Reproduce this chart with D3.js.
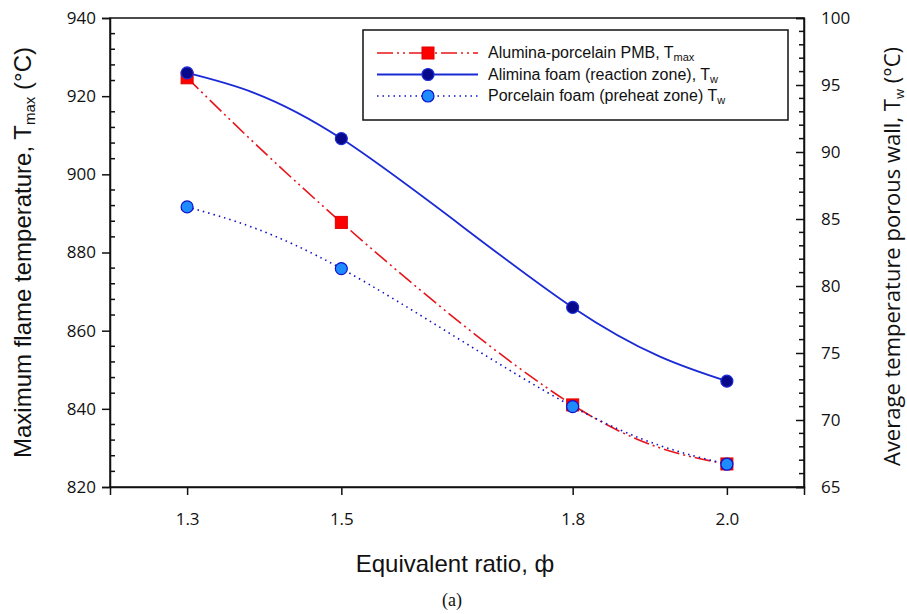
<!DOCTYPE html>
<html>
<head>
<meta charset="utf-8">
<script src="https://cdn.jsdelivr.net/npm/d3@7"></script>
<style>
  body { margin: 0; background: #fff; }
  svg text { fill: #111; }
</style>
</head>
<body>
<div id="container"></div>
<script>
const WIDTH = 907;
const HEIGHT = 614;

const phi = [1.3, 1.5, 1.8, 2.0];
const xTicks = [1.3, 1.5, 1.8, 2.0];
const tmaxPMB = [924.7, 887.7, 841, 825.9];
const twAlumina = [95.9, 91.0, 78.4, 72.9];
const twPorcelain = [85.9, 81.3, 71.0, 66.7];
const leftTicks = [820, 840, 860, 880, 900, 920, 940];
const rightTicks = [65, 70, 75, 80, 85, 90, 95, 100];

const margin = { top: 18, right: 103, bottom: 127, left: 110 };
const innerW = WIDTH - margin.left - margin.right;
const innerH = HEIGHT - margin.top - margin.bottom;

const svg = d3
  .select('#container')
  .append('svg')
  .attr('width', WIDTH)
  .attr('height', HEIGHT);

const g = svg
  .append('g')
  .attr('transform', `translate(${margin.left}, ${margin.top})`);

const x = d3.scaleLinear().domain([1.2, 2.1]).range([0, innerW]);
const yL = d3.scaleLinear().domain([820, 940]).range([innerH, 0]);
const yR = d3.scaleLinear().domain([65, 100]).range([innerH, 0]);

const tickFont = '"Open Sans", sans-serif';

// frame
g.append('rect')
  .attr('width', innerW)
  .attr('height', innerH)
  .attr('fill', 'none')
  .attr('stroke', '#111')
  .attr('stroke-width', 1.5);

// left axis: major out, minor in
const leftAxis = g.append('g').call(
  d3.axisLeft(yL).tickValues(leftTicks).tickSize(8).tickPadding(6).tickFormat(d3.format('d'))
);
leftAxis
  .append('g')
  .selectAll('line')
  .data(d3.range(820, 941, 4).filter((v) => v % 20 !== 0))
  .enter()
  .append('line')
  .attr('x1', 0)
  .attr('x2', 5)
  .attr('y1', (d) => yL(d))
  .attr('y2', (d) => yL(d))
  .attr('stroke', '#111')
  .attr('stroke-width', 1.5);

// right axis: ticks inward
const rightAxis = g
  .append('g')
  .attr('transform', `translate(${innerW}, 0)`)
  .call(d3.axisRight(yR).tickValues(rightTicks).tickSize(-8).tickPadding(18));
rightAxis
  .append('g')
  .selectAll('line')
  .data(d3.range(65, 101, 1).filter((v) => v % 5 !== 0))
  .enter()
  .append('line')
  .attr('x1', 0)
  .attr('x2', -5)
  .attr('y1', (d) => yR(d))
  .attr('y2', (d) => yR(d))
  .attr('stroke', '#111')
  .attr('stroke-width', 1.5);

// bottom axis
const bottomAxis = g
  .append('g')
  .attr('transform', `translate(0, ${innerH})`)
  .call(d3.axisBottom(x).tickValues(xTicks).tickSize(8).tickPadding(18).tickFormat(d3.format('.1f')));

[leftAxis, rightAxis, bottomAxis].forEach((a) => {
  a.select('.domain').attr('stroke', '#111').attr('stroke-width', 1.5);
  a.selectAll('.tick line').attr('stroke', '#111').attr('stroke-width', 1.5);
  a.selectAll('.tick text')
    .attr('font-family', tickFont)
    .attr('font-size', 17)
    .attr('fill', '#111');
});
rightAxis.selectAll('.tick text').attr('x', 17);

// series
const series = [
  {
    name: 'pmb',
    values: tmaxPMB,
    y: yL,
    stroke: '#e8141a',
    dash: '16,4,2,4,2,4',
    width: 1.6,
    marker: 'square',
    fill: '#ff0000',
    markerStroke: '#e00000',
  },
  {
    name: 'alumina',
    values: twAlumina,
    y: yR,
    stroke: '#1a2bd6',
    dash: null,
    width: 1.8,
    marker: 'circle',
    fill: '#08088a',
    markerStroke: '#1a2bd6',
  },
  {
    name: 'porcelain',
    values: twPorcelain,
    y: yR,
    stroke: '#1010c8',
    dash: '1.5,4',
    width: 1.6,
    marker: 'circle',
    fill: '#1e8cff',
    markerStroke: '#1010c8',
  },
];

// draw order: PMB, porcelain, alumina (light blue markers cover red squares)
const order = [series[0], series[2], series[1]];

order.forEach((s) => {
  const line = d3
    .line()
    .x((d, i) => x(phi[i]))
    .y((d) => s.y(d))
    .curve(d3.curveNatural);
  g.append('path')
    .datum(s.values)
    .attr('d', line)
    .attr('fill', 'none')
    .attr('stroke', s.stroke)
    .attr('stroke-width', s.width)
    .attr('stroke-dasharray', s.dash);
});

function drawMarker(sel, s, cx, cy) {
  if (s.marker === 'square') {
    sel
      .append('rect')
      .attr('x', cx - 6)
      .attr('y', cy - 6)
      .attr('width', 12)
      .attr('height', 12)
      .attr('fill', s.fill)
      .attr('stroke', s.markerStroke)
      .attr('stroke-width', 1);
  } else {
    sel
      .append('circle')
      .attr('cx', cx)
      .attr('cy', cy)
      .attr('r', 6)
      .attr('fill', s.fill)
      .attr('stroke', s.markerStroke)
      .attr('stroke-width', 1.2);
  }
}

order.forEach((s) => {
  const mg = g.append('g');
  s.values.forEach((v, i) => drawMarker(mg, s, x(phi[i]), s.y(v)));
});

// legend
const legend = svg.append('g').attr('transform', 'translate(363, 30)');
legend
  .append('rect')
  .attr('width', 425)
  .attr('height', 90)
  .attr('fill', '#fff')
  .attr('stroke', '#111')
  .attr('stroke-width', 1.5);

const legendLabels = [
  ['Alumina-porcelain PMB, T', 'max'],
  ['Alimina foam (reaction zone), T', 'w'],
  ['Porcelain foam (preheat zone) T', 'w'],
];

series.forEach((s, i) => {
  const yy = 23 + i * 21.5;
  const row = legend.append('g');
  row
    .append('line')
    .attr('x1', 14)
    .attr('x2', 115)
    .attr('y1', yy)
    .attr('y2', yy)
    .attr('stroke', s.stroke)
    .attr('stroke-width', s.width)
    .attr('stroke-dasharray', s.dash);
  drawMarker(row, s, 65, yy);
  const t = row
    .append('text')
    .attr('x', 125)
    .attr('y', yy + 5)
    .attr('font-family', 'Liberation Sans, Arial, sans-serif')
    .attr('font-size', 16)
    .text(legendLabels[i][0]);
  t.append('tspan')
    .attr('font-size', 11)
    .attr('dy', 3)
    .text(legendLabels[i][1]);
});

// axis titles
const leftTitle = svg
  .append('text')
  .attr('transform', `translate(31, ${margin.top + innerH / 2}) rotate(-90)`)
  .attr('text-anchor', 'middle')
  .attr('font-family', 'Liberation Sans, Arial, sans-serif')
  .attr('font-size', 24);
leftTitle.append('tspan').text('Maximum flame temperature, T');
leftTitle.append('tspan').attr('font-size', 15).attr('dy', 4).text('max');
leftTitle.append('tspan').attr('dy', -4).text(' (°C)');

const rightTitle = svg
  .append('text')
  .attr('transform', `translate(900, ${margin.top + innerH / 2 + 4}) rotate(-90)`)
  .attr('text-anchor', 'middle')
  .attr('font-family', tickFont)
  .attr('font-size', 22);
rightTitle.append('tspan').text('Average temperature porous wall, T');
rightTitle.append('tspan').attr('font-size', 13).attr('dy', 4).text('w');
rightTitle.append('tspan').attr('dy', -4).text(' (°C)');

svg
  .append('text')
  .attr('x', 455)
  .attr('y', 572)
  .attr('text-anchor', 'middle')
  .attr('font-family', 'Liberation Sans, Arial, sans-serif')
  .attr('font-size', 24)
  .text('Equivalent ratio, ф');

svg
  .append('text')
  .attr('x', 452)
  .attr('y', 606)
  .attr('text-anchor', 'middle')
  .attr('font-family', 'Liberation Serif, Times New Roman, serif')
  .attr('font-size', 18)
  .text('(a)');
</script>
</body>
</html>
